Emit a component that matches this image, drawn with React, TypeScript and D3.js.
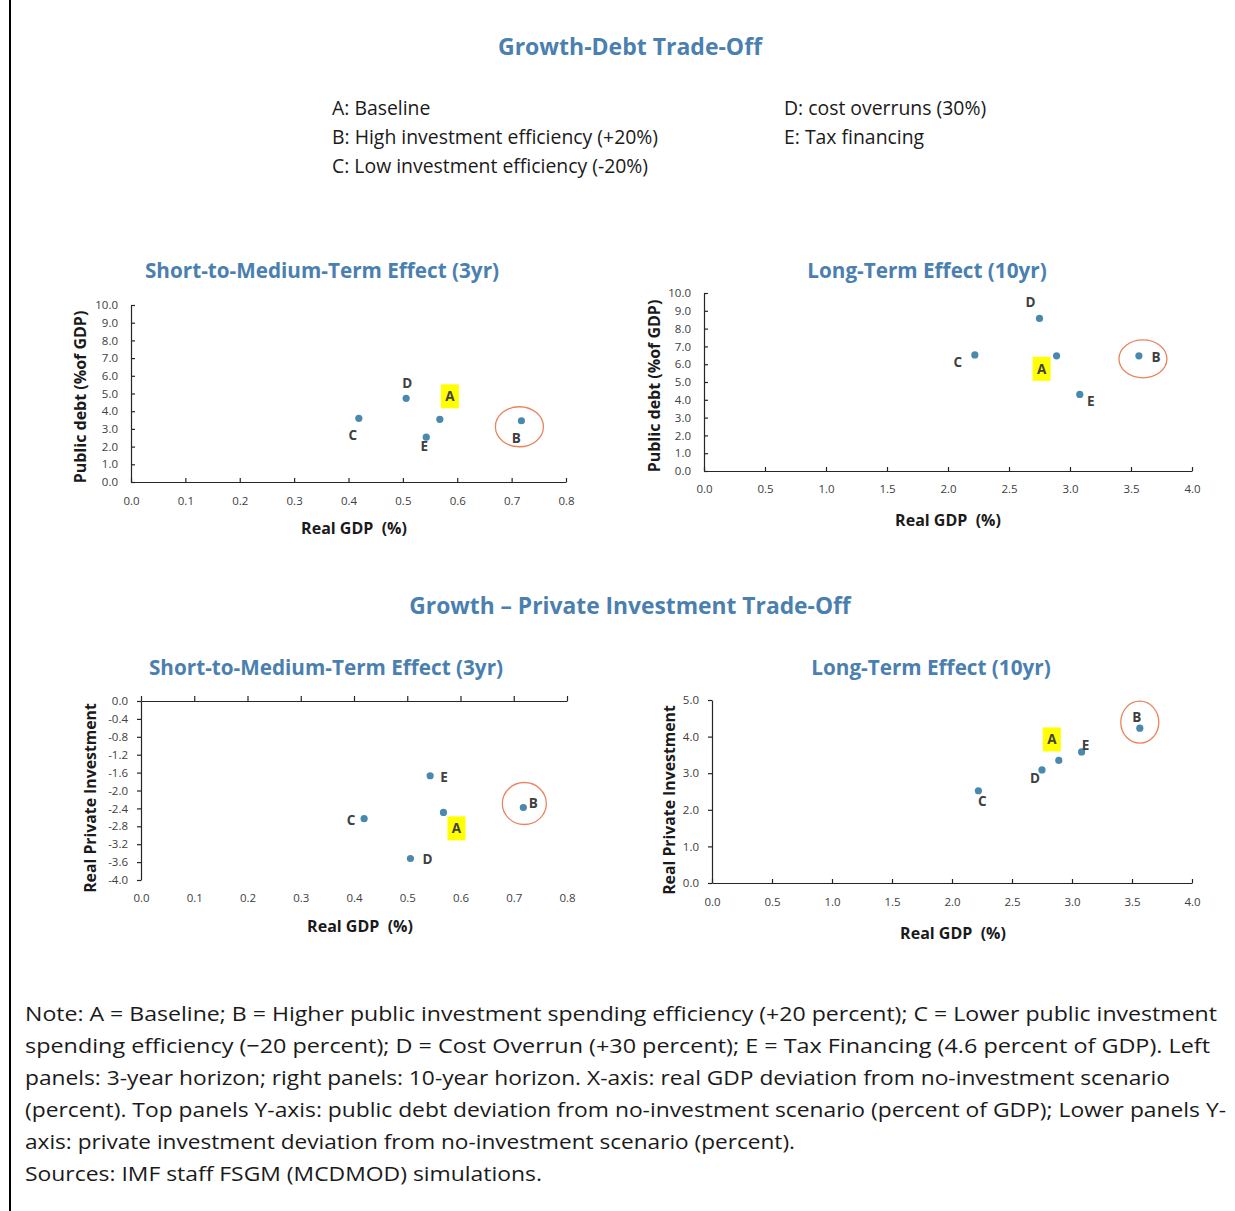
import * as d3 from "d3";
import { useEffect, useRef } from "react";

// scenarios A..E, values
const scenarios = ["A", "B", "C", "D", "E"];
const gdp3yr = [0.568, 0.718, 0.419, 0.506, 0.543];
const debt3yr = [3.54, 3.46, 3.6, 4.73, 2.53];
const gdp10yr = [2.89, 3.565, 2.22, 2.75, 3.08];
const debt10yr = [6.47, 6.47, 6.52, 8.57, 4.3];
const privInv3yr = [-2.49, -2.38, -2.63, -3.52, -1.67];
const privInv10yr = [3.35, 4.23, 2.52, 3.09, 3.58];

const gdp3yrTicks = [0, 0.1, 0.2, 0.3, 0.4, 0.5, 0.6, 0.7, 0.8];
const gdp10yrTicks = [0, 0.5, 1, 1.5, 2, 2.5, 3, 3.5, 4];
const debtTicks = [0, 1, 2, 3, 4, 5, 6, 7, 8, 9, 10];
const privInv3yrTicks = [0, -0.4, -0.8, -1.2, -1.6, -2, -2.4, -2.8, -3.2, -3.6, -4];
const privInv10yrTicks = [0, 1, 2, 3, 4, 5];

const legendLeft = [
  "A: Baseline",
  "B: High investment efficiency (+20%)",
  "C: Low investment efficiency (-20%)",
];
const legendRight = ["D: cost overruns (30%)", "E: Tax financing"];

const noteLines = [
  "Note: A = Baseline; B = Higher public investment spending efficiency (+20 percent); C = Lower public investment",
  "spending efficiency (\u221220 percent); D = Cost Overrun (+30 percent); E = Tax Financing (4.6 percent of GDP). Left",
  "panels: 3-year horizon; right panels: 10-year horizon. X-axis: real GDP deviation from no-investment scenario",
  "(percent). Top panels Y-axis: public debt deviation from no-investment scenario (percent of GDP); Lower panels Y-",
  "axis: private investment deviation from no-investment scenario (percent).",
  "Sources: IMF staff FSGM (MCDMOD) simulations.",
];
const noteWidths = [1192, 1185, 1145, 1201, 770, 517];

const BLUE = "#4a7fb0";
const DOT = "#4a89ae";
const FONT = "'Open Sans', 'Noto Sans', sans-serif";

type PanelCfg = {
  title: string;
  titleX: number;
  xRange: [number, number];
  yRange: [number, number];
  xDomain: [number, number];
  yDomain: [number, number];
  xTicks: number[];
  yTicks: number[];
  xs: number[];
  ys: number[];
  yTitle: string;
  yTitleSize: number;
  yTitlePos: [number, number];
  xTitlePos: [number, number];
  offsets: Record<string, [number, number]>;
  ring: [number, number, number, number];
  xAxisTop?: boolean;
  yTicksInside: boolean;
  xPad: number;
};

const panels: PanelCfg[] = [
  {
    title: "Short-to-Medium-Term Effect (3yr)",
    titleX: 322,
    xRange: [131, 566],
    yRange: [482, 305],
    xDomain: [0, 0.8],
    yDomain: [0, 10],
    xTicks: gdp3yrTicks,
    yTicks: debtTicks,
    xs: gdp3yr,
    ys: debt3yr,
    yTitle: "Public debt (%of GDP)",
    yTitleSize: 16,
    yTitlePos: [80, 397],
    xTitlePos: [354, 528],
    offsets: { A: [10, -23], B: [-5, 17], C: [-6, 17], D: [1, -15], E: [-2, 9] },
    ring: [-2, 6, 24, 20],
    yTicksInside: true,
    xPad: 15,
  },
  {
    title: "Long-Term Effect (10yr)",
    titleX: 927,
    xRange: [704, 1192],
    yRange: [471, 293],
    xDomain: [0, 4],
    yDomain: [0, 10],
    xTicks: gdp10yrTicks,
    yTicks: debtTicks,
    xs: gdp10yr,
    ys: debt10yr,
    yTitle: "Public debt (%of GDP)",
    yTitleSize: 16,
    yTitlePos: [654, 386],
    xTitlePos: [948, 520],
    offsets: { A: [-15, 13], B: [17, 1], C: [-17, 7], D: [-9, -16], E: [11, 7] },
    ring: [4, 3, 24, 19],
    yTicksInside: true,
    xPad: 14,
  },
  {
    title: "Short-to-Medium-Term Effect (3yr)",
    titleX: 326,
    xRange: [141, 567],
    yRange: [880, 701],
    xDomain: [0, 0.8],
    yDomain: [-4, 0],
    xTicks: gdp3yrTicks,
    yTicks: privInv3yrTicks,
    xs: gdp3yr,
    ys: privInv3yr,
    yTitle: "Real Private Investment",
    yTitleSize: 15.8,
    yTitlePos: [90, 798],
    xTitlePos: [360, 926],
    offsets: { A: [13, 16], B: [10, -5], C: [-13, 1], D: [17, 0], E: [14, 1] },
    ring: [1, -4, 22, 21],
    xAxisTop: true,
    yTicksInside: false,
    xPad: 14,
  },
  {
    title: "Long-Term Effect (10yr)",
    titleX: 931,
    xRange: [712, 1192],
    yRange: [883, 700],
    xDomain: [0, 4],
    yDomain: [0, 5],
    xTicks: gdp10yrTicks,
    yTicks: privInv10yrTicks,
    xs: gdp10yr,
    ys: privInv10yr,
    yTitle: "Real Private Investment",
    yTitleSize: 15.8,
    yTitlePos: [669, 800],
    xTitlePos: [953, 933],
    offsets: { A: [-7, -21], B: [-3, -11], C: [4, 10], D: [-7, 8], E: [4, -7] },
    ring: [0, -6, 19, 21],
    yTicksInside: false,
    xPad: 15,
  },
];

const styleAxis = (g: d3.Selection<SVGGElement, unknown, null, undefined>) => {
  g.attr("font-family", FONT).attr("font-size", 11.5);
  g.selectAll("path.domain").attr("stroke", "#262626").attr("stroke-width", 1.2);
  g.selectAll(".tick line").attr("stroke", "#262626").attr("stroke-width", 1.2);
  g.selectAll(".tick text").attr("fill", "#404040");
};

const Panel = ({ p, top }: { p: PanelCfg; top: number }) => {
  const ref = useRef<SVGGElement | null>(null);
  const x = d3.scaleLinear().domain(p.xDomain).range(p.xRange);
  const y = d3.scaleLinear().domain(p.yDomain).range(p.yRange);

  useEffect(() => {
    if (!ref.current) return;
    const root = d3.select(ref.current);
    root.selectAll("*").remove();
    const fmt = (d: d3.NumberValue) => (+d).toFixed(1);

    // y axis
    const yAxis = d3
      .axisLeft(y)
      .tickValues(p.yTicks)
      .tickFormat(fmt)
      .tickSizeOuter(0)
      .tickSizeInner(p.yTicksInside ? -4 : 4)
      .tickPadding(p.yTicksInside ? 13 : 9);
    root
      .append("g")
      .attr("transform", `translate(${p.xRange[0]},0)`)
      .call(yAxis)
      .call(styleAxis);

    if (p.xAxisTop) {
      // axis line sits at zero (top), labels stay low
      const zeroY = y(0);
      root
        .append("g")
        .attr("transform", `translate(0,${zeroY})`)
        .call(
          d3.axisTop(x).tickValues(p.xTicks).tickFormat(() => "").tickSizeOuter(0).tickSizeInner(5)
        )
        .call(styleAxis);
      const lab = root
        .append("g")
        .attr("transform", `translate(0,${p.yRange[0]})`)
        .call(d3.axisBottom(x).tickValues(p.xTicks).tickFormat(fmt).tickSize(0).tickPadding(p.xPad))
        .call(styleAxis);
      lab.select("path.domain").remove();
    } else {
      root
        .append("g")
        .attr("transform", `translate(0,${p.yRange[0]})`)
        .call(
          d3
            .axisBottom(x)
            .tickValues(p.xTicks)
            .tickFormat(fmt)
            .tickSizeOuter(0)
            .tickSizeInner(-4)
            .tickPadding(p.xPad)
        )
        .call(styleAxis);
    }
  }, []);

  const bi = scenarios.indexOf("B");

  return (
    <g>
      <text
        x={p.titleX}
        y={top}
        textAnchor="middle"
        dominantBaseline="central"
        fontFamily={FONT}
        fontWeight={700}
        fontSize={20.7}
        fill={BLUE}
      >
        {p.title}
      </text>
      <g ref={ref} />
      <text
        transform={`translate(${p.yTitlePos[0]},${p.yTitlePos[1]}) rotate(-90)`}
        textAnchor="middle"
        dominantBaseline="central"
        fontFamily={FONT}
        fontWeight={700}
        fontSize={p.yTitleSize}
        fill="#1a1a1a"
      >
        {p.yTitle}
      </text>
      <text
        x={p.xTitlePos[0]}
        y={p.xTitlePos[1]}
        textAnchor="middle"
        dominantBaseline="central"
        fontFamily={FONT}
        fontWeight={700}
        fontSize={16}
        fill="#1a1a1a"
      >
        Real GDP {"\u00a0"}(%)
      </text>
      <ellipse
        cx={x(p.xs[bi]) + p.ring[0]}
        cy={y(p.ys[bi]) + p.ring[1]}
        rx={p.ring[2]}
        ry={p.ring[3]}
        fill="none"
        stroke="#e8845e"
        strokeWidth={1.3}
      />
      {scenarios.map((s, i) => {
        const cx = x(p.xs[i]);
        const cy = y(p.ys[i]);
        const [dx, dy] = p.offsets[s];
        return (
          <g key={s}>
            <circle cx={cx} cy={cy} r={3.6} fill={DOT} />
            {s === "A" && (
              <rect x={cx + dx - 9} y={cy + dy - 12} width={18} height={24} fill="#ffff00" />
            )}
            <text
              x={cx + dx}
              y={cy + dy}
              textAnchor="middle"
              dominantBaseline="central"
              fontFamily={FONT}
              fontWeight={700}
              fontSize={13.5}
              fill="#404040"
            >
              {s}
            </text>
          </g>
        );
      })}
    </g>
  );
};

const App = () => {
  return (
    <svg
      width={1235}
      height={1211}
      style={{ position: "absolute", left: 0, top: 0, background: "#fff" }}
    >
      <rect width={1235} height={1211} fill="#fff" />
      <line x1={10} x2={10} y1={0} y2={1211} stroke="#000" strokeWidth={2} />

      <text
        x={630}
        y={46}
        textAnchor="middle"
        dominantBaseline="central"
        fontFamily={FONT}
        fontWeight={700}
        fontSize={23}
        fill={BLUE}
      >
        Growth-Debt Trade-Off
      </text>
      {legendLeft.map((t, i) => (
        <text
          key={t}
          x={332}
          y={107 + i * 29}
          dominantBaseline="central"
          fontFamily={FONT}
          fontSize={19.4}
          fill="#1a1a1a"
        >
          {t}
        </text>
      ))}
      {legendRight.map((t, i) => (
        <text
          key={t}
          x={784}
          y={107 + i * 29}
          dominantBaseline="central"
          fontFamily={FONT}
          fontSize={19.4}
          fill="#1a1a1a"
        >
          {t}
        </text>
      ))}

      <Panel p={panels[0]} top={270} />
      <Panel p={panels[1]} top={270} />

      <text
        x={630}
        y={605}
        textAnchor="middle"
        dominantBaseline="central"
        fontFamily={FONT}
        fontWeight={700}
        fontSize={22.8}
        fill={BLUE}
      >
        Growth – Private Investment Trade-Off
      </text>

      <Panel p={panels[2]} top={667} />
      <Panel p={panels[3]} top={667} />

      {noteLines.map((t, i) => (
        <text
          key={i}
          x={25}
          y={1013 + i * 32}
          dominantBaseline="central"
          fontFamily={FONT}
          fontSize={20}
          fill="#1a1a1a"
          textLength={noteWidths[i]}
          lengthAdjust="spacingAndGlyphs"
        >
          {t}
        </text>
      ))}
    </svg>
  );
};

export default App;
